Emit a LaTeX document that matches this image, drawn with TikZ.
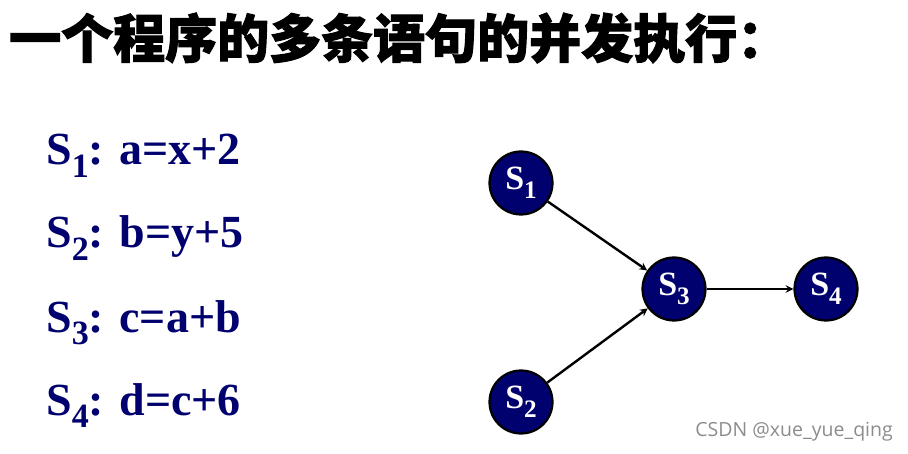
\documentclass[tikz,border=0pt]{standalone}
\usepackage{fontspec}
\setmainfont{Liberation Serif}
\newfontfamily\cjk{Noto Sans CJK SC}[BoldFeatures={FakeBold=2}]
\newfontfamily\wmfont{Open Sans}
\usepackage{tikz}
\usetikzlibrary{positioning}
\definecolor{navy}{RGB}{0,0,110}
\newcommand{\idx}[1]{\raisebox{-0.6ex}{\scalebox{0.74}{#1}}}

\begin{document}
\begin{tikzpicture}[
    x=1pt, y=1pt,
    stmt/.style={anchor=base west, inner sep=0pt, text=navy, font=\fontsize{46}{50}\selectfont\bfseries},
    proc/.style={circle, draw, line width=2.2pt, fill=navy, minimum size=63pt, inner sep=0pt, text=white, font=\fontsize{34}{36}\selectfont\bfseries},
    arrow/.style={->, >=stealth, line width=2.4pt}
]
\useasboundingbox (0,0) rectangle (908,453);

% Title
\node[anchor=west, inner sep=0pt, font=\cjk\bfseries\fontsize{52}{56}\selectfont] (title) at (9,415) {一个程序的多条语句的并发执行：};

% Statements
\node[stmt] (line1) at (46,288) {S\idx{1}: a=x+2};
\node[stmt] (line2) at (46,205) {S\idx{2}: b=y+5};
\node[stmt] (line3) at (46,121) {S\idx{3}: c=a+b};
\node[stmt] (line4) at (46,38) {S\idx{4}: d=c+6};

% Precedence graph
\node[proc] (s1) at (521,270) {S\idx{1}};
\node[proc] (s2) at (521,51) {S\idx{2}};
\node[proc] (s3) at (674,164) {S\idx{3}};
\node[proc] (s4) at (826,164) {S\idx{4}};

\draw[arrow] (s1) -- (s3);
\draw[arrow] (s2) -- (s3);
\draw[arrow] (s3) -- (s4);

% Watermark
\node[anchor=east, inner sep=0pt, text=black!45, font=\wmfont\fontsize{19.5}{21}\selectfont] (credit) at (893,21) {CSDN @xue\_yue\_qing};

\end{tikzpicture}
\end{document}
